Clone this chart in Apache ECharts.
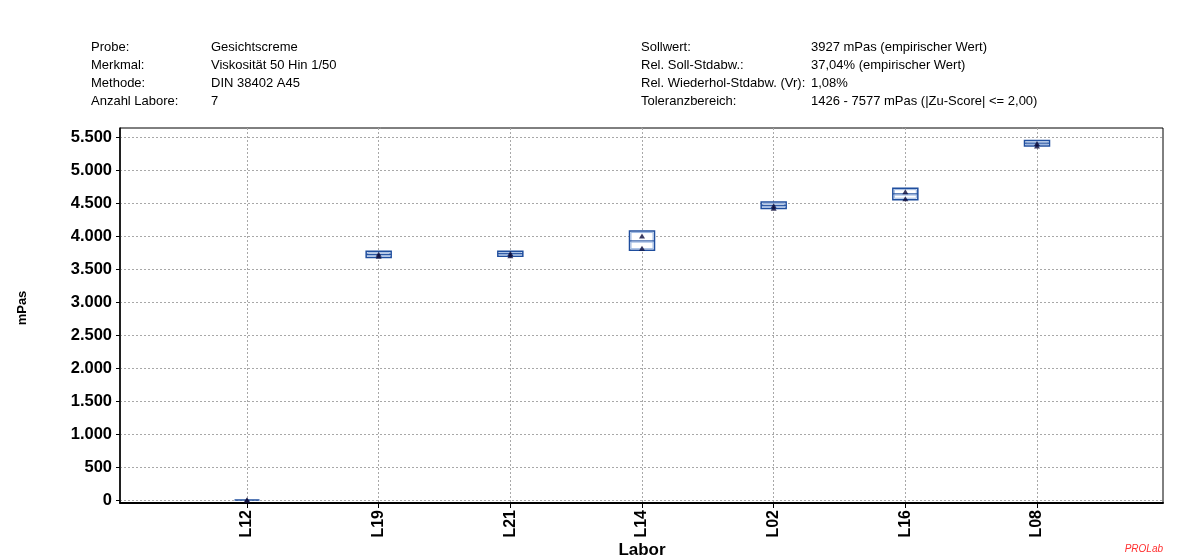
<!DOCTYPE html>
<html>
<head>
<meta charset="utf-8">
<script src="https://cdn.jsdelivr.net/npm/echarts@6/dist/echarts.min.js"></script>
<style>html,body{margin:0;padding:0;background:#fff;}#c{width:1187px;height:560px;}</style>
</head>
<body>
<div id="c"></div>
<script>
const labs = ['L12', 'L19', 'L21', 'L14', 'L02', 'L16', 'L08'];
const rep1 = [0, 3725, 3735, 4000, 4460, 4670, 5400];
const rep2 = [0, 3695, 3700, 3815, 4420, 4565, 5365];
const boxLow = [0, 3690, 3710, 3800, 4430, 4565, 5380];
const boxHigh = [0, 3755, 3755, 4060, 4500, 4710, 5432];
const boxMid = [0, 3722, 3732, 3925, 4465, 4638, 5406];
const yTicks = [0, 500, 1000, 1500, 2000, 2500, 3000, 3500, 4000, 4500, 5000, 5500];
const headLeftKeys = ['Probe:', 'Merkmal:', 'Methode:', 'Anzahl Labore:'];
const headLeftVals = ['Gesichtscreme', 'Viskosität 50 Hin 1/50', 'DIN 38402 A45', '7'];
const headRightKeys = ['Sollwert:', 'Rel. Soll-Stdabw.:', 'Rel. Wiederhol-Stdabw. (Vr):', 'Toleranzbereich:'];
const headRightVals = ['3927 mPas (empirischer Wert)', '37,04% (empirischer Wert)', '1,08%', '1426 - 7577 mPas (|Zu-Score| <= 2,00)'];
const xTitle = 'Labor';
const yTitle = 'mPas';

const FONT = '"Liberation Sans", Arial, sans-serif';
const chart = echarts.init(document.getElementById('c'), null, {renderer: 'canvas'});

function fmt(v) { return String(v).replace(/\B(?=(\d{3})+(?!\d))/g, '.'); }

const graphics = [];
const rowY = [47, 65, 83, 101];
const hf = '13px ' + FONT;
for (let i = 0; i < 4; i++) {
  graphics.push({type: 'text', x: 91, y: rowY[i], style: {text: headLeftKeys[i], font: hf, fill: '#000', verticalAlign: 'middle'}});
  graphics.push({type: 'text', x: 211, y: rowY[i], style: {text: headLeftVals[i], font: hf, fill: '#000', verticalAlign: 'middle'}});
  graphics.push({type: 'text', x: 641, y: rowY[i], style: {text: headRightKeys[i], font: hf, fill: '#000', verticalAlign: 'middle'}});
  graphics.push({type: 'text', x: 811, y: rowY[i], style: {text: headRightVals[i], font: hf, fill: '#000', verticalAlign: 'middle'}});
}
graphics.push({type: 'text', x: 22, y: 308, rotation: Math.PI / 2, style: {text: yTitle, font: 'bold 13px ' + FONT, fill: '#000', align: 'center', verticalAlign: 'middle'}});
graphics.push({type: 'text', x: 642, y: 550, style: {text: xTitle, font: 'bold 17px ' + FONT, fill: '#000', align: 'center', verticalAlign: 'middle'}});
graphics.push({type: 'text', x: 1163, y: 549, style: {text: 'PROLab', font: 'italic 10px ' + FONT, fill: '#ff3030', align: 'right', verticalAlign: 'middle'}});

const grayDash = {color: '#a8a8a8', width: 1, type: [2, 2]};
const gbase = {containLabel: false, outerBoundsMode: 'none'};

const option = {
  backgroundColor: '#fff',
  animation: false,
  graphic: graphics,
  grid: [
    Object.assign({left: 120, top: 128, width: 1043, height: 375, show: true, borderColor: '#000', borderWidth: 1, backgroundColor: 'transparent'}, gbase),
    Object.assign({left: 120, top: 137, width: 1043, height: 363}, gbase),
    Object.assign({left: 247, top: 128, width: 790, height: 375}, gbase),
    Object.assign({left: 247, top: 137, width: 790, height: 363}, gbase)
  ],
  xAxis: [
    {gridIndex: 0, type: 'value', min: 0, max: 1, axisLine: {show: true, onZero: false, lineStyle: {color: '#000', width: 2}}, axisTick: {show: false}, axisLabel: {show: false}, splitLine: {show: false}},
    {gridIndex: 1, type: 'value', min: 0, max: 1, show: false},
    {gridIndex: 2, type: 'category', data: labs, boundaryGap: false,
      axisLine: {show: false, onZero: false}, axisTick: {show: true, length: 5, lineStyle: {color: '#000'}},
      axisLabel: {rotate: 90, margin: 7, color: '#000', fontWeight: 'bold', fontSize: 16, fontFamily: FONT},
      splitLine: {show: true, lineStyle: grayDash}},
    {gridIndex: 3, type: 'category', data: labs, boundaryGap: false, show: false}
  ],
  yAxis: [
    {gridIndex: 0, type: 'value', min: 0, max: 1, axisLine: {show: true, onZero: false, lineStyle: {color: '#000', width: 1.5}}, axisTick: {show: false}, axisLabel: {show: false}, splitLine: {show: false}},
    {gridIndex: 1, type: 'value', min: yTicks[0], max: yTicks[yTicks.length - 1], interval: 500,
      axisLine: {show: false, onZero: false}, axisTick: {show: true, length: 4, lineStyle: {color: '#000'}},
      axisLabel: {margin: 8, color: '#000', fontWeight: 'bold', fontSize: 16.5, fontFamily: FONT, formatter: fmt},
      splitLine: {show: true, lineStyle: grayDash}},
    {gridIndex: 2, type: 'value', min: 0, max: 1, show: false},
    {gridIndex: 3, type: 'value', min: yTicks[0], max: yTicks[yTicks.length - 1], show: false}
  ],
  series: [
    {
      type: 'custom', xAxisIndex: 3, yAxisIndex: 3, clip: false, z: 5,
      data: labs.map((l, i) => [i, boxLow[i], boxHigh[i], boxMid[i]]),
      renderItem: function (params, api) {
        const i = api.value(0);
        const pLo = api.coord([i, api.value(1)]);
        const pHi = api.coord([i, api.value(2)]);
        const pMid = api.coord([i, api.value(3)]);
        const hw = 12.5;
        const x = pLo[0] - hw;
        const top = pHi[1] - 1;
        const h = pLo[1] - pHi[1] + 2;
        const children = [];
        if (pLo[1] - pHi[1] < 1) {
          children.push({type: 'line', shape: {x1: x, y1: pLo[1], x2: x + 2 * hw, y2: pLo[1]}, style: {stroke: '#1f4e9e', lineWidth: 1.5}});
        } else {
          children.push({type: 'rect', shape: {x: x, y: top, width: 2 * hw, height: h}, style: {fill: '#fff', stroke: '#1f4e9e', lineWidth: 1.5}});
          children.push({type: 'rect', shape: {x: x + 1.5, y: top + 1.5, width: 2 * hw - 3, height: Math.max(h - 3, 0.5)}, style: {fill: 'none', stroke: '#9db8e2', lineWidth: 1}});
          children.push({type: 'line', shape: {x1: x, y1: pMid[1], x2: x + 2 * hw, y2: pMid[1]}, style: {stroke: '#1f4e9e', lineWidth: 1.2}});
          children.push({type: 'line', shape: {x1: x + 1, y1: pMid[1] + 1.2, x2: x + 2 * hw - 1, y2: pMid[1] + 1.2}, style: {stroke: '#9db8e2', lineWidth: 1}});
        }
        return {type: 'group', children: children};
      }
    },
    {type: 'scatter', xAxisIndex: 3, yAxisIndex: 3, symbol: 'triangle', symbolSize: [6, 5], z: 6,
      itemStyle: {color: '#0a0a3a'}, data: labs.map((l, i) => [i, rep1[i]])},
    {type: 'scatter', xAxisIndex: 3, yAxisIndex: 3, symbol: 'triangle', symbolSize: [6, 5], z: 6,
      itemStyle: {color: '#0a0a3a'}, data: labs.map((l, i) => [i, rep2[i]])}
  ]
};
chart.setOption(option);
</script>
</body>
</html>
